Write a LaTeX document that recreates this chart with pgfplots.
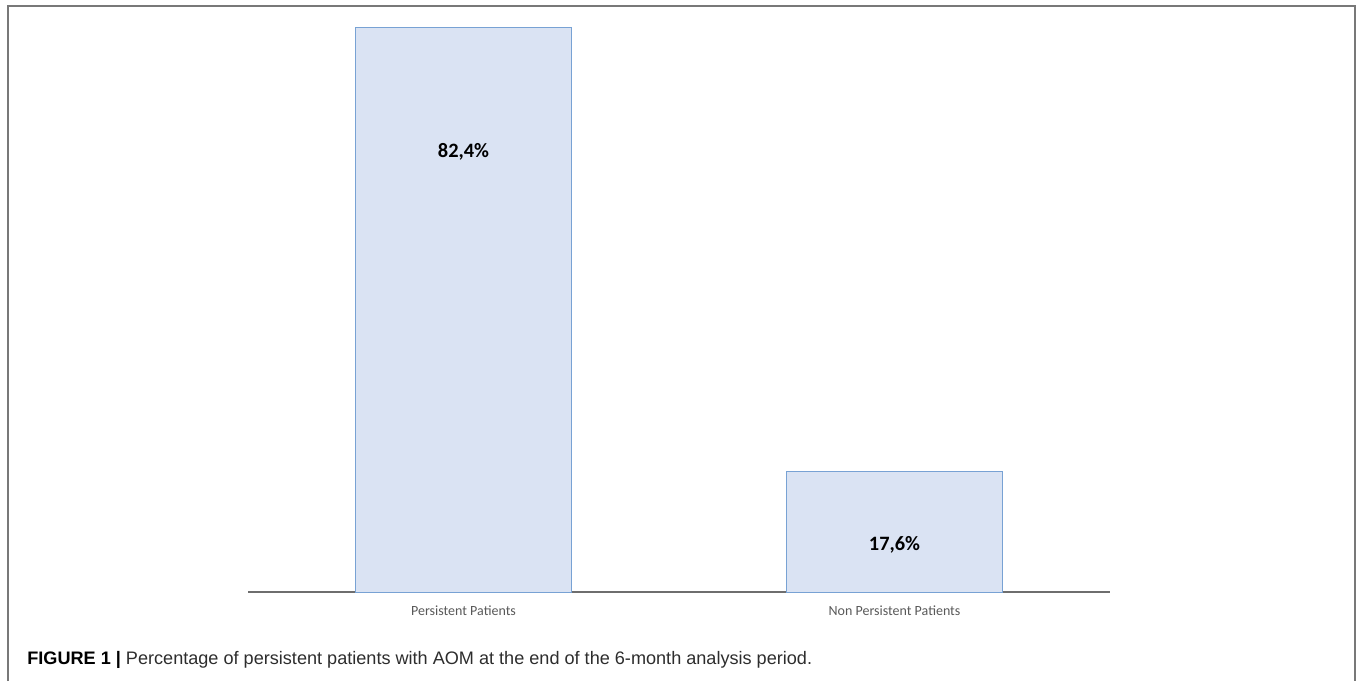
\documentclass[border=0pt]{standalone}
\usepackage{pgfplots}
\pgfplotsset{compat=1.18}
\usepackage{fontspec}
\setmainfont{Liberation Sans}
\newfontfamily\carlito{Carlito}
\definecolor{barfill}{RGB}{218,227,243}
\definecolor{barline}{RGB}{120,162,212}
\definecolor{framec}{RGB}{120,120,120}
\definecolor{axisc}{RGB}{110,110,110}
\definecolor{tickc}{RGB}{89,89,89}
\definecolor{captc}{RGB}{45,45,45}
\begin{document}
\begin{tikzpicture}
\useasboundingbox (0,0) rectangle (680pt,340.5pt);
\draw[framec, line width=1pt] (4pt,0pt) -- (4pt,337.5pt) -- (677.5pt,337.5pt) -- (677.5pt,0pt);
\begin{axis}[
  at={(124pt,44.5pt)}, anchor=south west,
  scale only axis, width=431pt, height=291.4pt,
  xmin=-0.5, xmax=1.5, ymin=0, ymax=85,
  axis x line=bottom, axis y line=none,
  x axis line style={-, axisc, line width=0.8pt},
  xtick=data, xticklabels={Persistent Patients, Non Persistent Patients},
  major tick length=0pt,
  xticklabel style={font=\carlito\fontsize{7}{8}\selectfont, text=tickc, yshift=-3.5pt},
  clip=false,
]
\addplot[ybar, bar width=108pt, fill=barfill, draw=barline, line width=0.5pt] coordinates {(0,82.4) (1,17.6)};
\addplot[draw=none, mark=none, nodes near coords, point meta=explicit symbolic,
  every node near coord/.style={font=\carlito\bfseries\fontsize{10.2}{12}\selectfont, anchor=center, text=black}]
  coordinates {(0,64.2) [82,4\%] (1,6.85) [17,6\%]};
\end{axis}
\node[anchor=base west, inner sep=0pt, font=\fontsize{9.05}{11}\selectfont, text=captc] at (13.5pt,8.5pt) {\textcolor{black}{\textbf{FIGURE 1 |}} Percentage of persistent patients with AOM at the end of the 6-month analysis period.};
\end{tikzpicture}
\end{document}
